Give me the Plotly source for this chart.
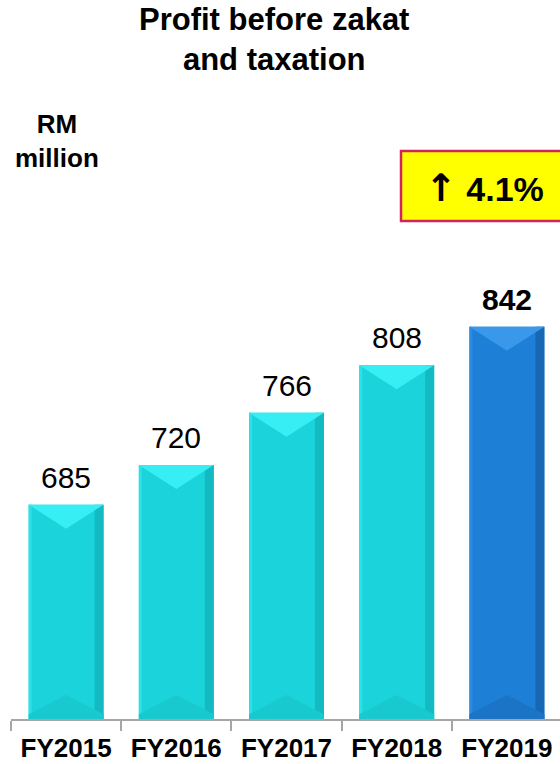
import plotly.graph_objects as go

# Chart data
years = ["FY2015", "FY2016", "FY2017", "FY2018", "FY2019"]
profit = [685, 720, 766, 808, 842]
value_labels = ["685", "720", "766", "808", "842"]
growth_arrow = "↑"
growth_label = "4.1%"

# Styling
FONT = "Liberation Sans, Arial, sans-serif"
ARROW_FONT = "DejaVu Sans"
W, H = 560, 764
M_L, M_R, M_T, M_B = 11, 0, 0, 45
Y_MIN, PX_PER_UNIT = 496, 1.134
BAR_W = 0.68

plot_w = W - M_L - M_R
plot_h = H - M_T - M_B
cat_px = 110.2
x_range = [-0.5, -0.5 + plot_w / cat_px]
y_range = [Y_MIN, Y_MIN + plot_h / PX_PER_UNIT]

palette = {
    "cyan": dict(main="#1BD4DB", top="#36EEF4", side="#14BAC1", bottom="#18C9D0", left="#2BE0E6"),
    "blue": dict(main="#1E7FD6", top="#3A98EA", side="#1867B5", bottom="#1B74C6", left="#2A8BE0"),
}
bar_styles = [palette["cyan"]] * 4 + [palette["blue"]]

fig = go.Figure()
fig.add_trace(go.Bar(
    x=years, y=profit, width=BAR_W,
    marker=dict(color=[s["main"] for s in bar_styles], line=dict(width=0)),
    hoverinfo="skip",
))

# Bevel effect on each bar (expressed in axis units)
shapes = []
depth = 24 / PX_PER_UNIT
side_w = 9 / cat_px
edge_w = 3 / cat_px
for i, (v, st) in enumerate(zip(profit, bar_styles)):
    x0, x1, xc = i - BAR_W / 2, i + BAR_W / 2, i
    # right darker band
    shapes.append(dict(type="rect", xref="x", yref="y", x0=x1 - side_w, x1=x1, y0=Y_MIN, y1=v,
                       fillcolor=st["side"], line=dict(width=0), layer="above"))
    # left lighter band
    shapes.append(dict(type="rect", xref="x", yref="y", x0=x0, x1=x0 + edge_w, y0=Y_MIN, y1=v,
                       fillcolor=st["left"], line=dict(width=0), layer="above"))
    # bottom chevron
    shapes.append(dict(type="path", xref="x", yref="y",
                       path=f"M {x0},{Y_MIN} L {x1},{Y_MIN} L {x1},{Y_MIN + depth * 0.2} "
                            f"L {xc},{Y_MIN + depth} L {x0},{Y_MIN + depth * 0.2} Z",
                       fillcolor=st["bottom"], line=dict(width=0), layer="above"))
    # top highlight triangle
    shapes.append(dict(type="path", xref="x", yref="y",
                       path=f"M {x0},{v} L {x1},{v} L {xc},{v - depth} Z",
                       fillcolor=st["top"], line=dict(width=0), layer="above"))

# Growth badge
def px_x(p):
    return (p - M_L) / plot_w

def px_y(p):
    return (H - M_B - p) / plot_h

shapes.append(dict(type="rect", xref="paper", yref="paper",
                   x0=px_x(401), x1=px_x(575), y0=px_y(221), y1=px_y(151),
                   fillcolor="#FFFF00", line=dict(color="#D0245A", width=2.5), layer="above"))

annotations = []
for i, (v, lbl) in enumerate(zip(profit, value_labels)):
    last = i == len(profit) - 1
    annotations.append(dict(
        x=years[i], y=v, xref="x", yref="y", text=f"<b>{lbl}</b>" if last else lbl,
        showarrow=False, xanchor="center", yanchor="bottom", yshift=9,
        font=dict(family=FONT, size=30, color="#000000"),
    ))

annotations.append(dict(
    x=px_x(274), y=px_y(40), xref="paper", yref="paper",
    xanchor="center", yanchor="middle",
    text="<b>Profit before zakat<br>and taxation</b>", showarrow=False,
    font=dict(family=FONT, size=31, color="#000000"), align="center",
))
annotations.append(dict(
    x=px_x(57), y=px_y(141), xref="paper", yref="paper",
    xanchor="center", yanchor="middle",
    text="<b>RM<br>million</b>", showarrow=False,
    font=dict(family=FONT, size=26, color="#000000"), align="center",
))
annotations.append(dict(
    x=px_x(484), y=px_y(188), xref="paper", yref="paper",
    xanchor="center", yanchor="middle",
    text=(f"<span style='font-family:{ARROW_FONT};font-size:38px'><b>{growth_arrow}</b></span>"
          f" <b>{growth_label}</b>"),
    showarrow=False,
    font=dict(family=FONT, size=34, color="#000000"),
))

fig.update_layout(
    width=W, height=H,
    margin=dict(l=M_L, r=M_R, t=M_T, b=M_B, pad=0),
    paper_bgcolor="white", plot_bgcolor="white",
    showlegend=False,
    shapes=shapes, annotations=annotations,
    xaxis=dict(
        type="category", range=x_range, tickson="boundaries",
        showline=True, linecolor="#A6A6A6", linewidth=2,
        ticks="outside", ticklen=10, tickwidth=2, tickcolor="#A6A6A6",
        showgrid=False, zeroline=False,
        tickfont=dict(family=FONT, size=26, color="#000000"),
        ticklabelstandoff=5,
        tickprefix="<b>", ticksuffix="</b>",
    ),
    yaxis=dict(range=y_range, visible=False, showgrid=False, zeroline=False),
)

fig.write_html("out.html")
